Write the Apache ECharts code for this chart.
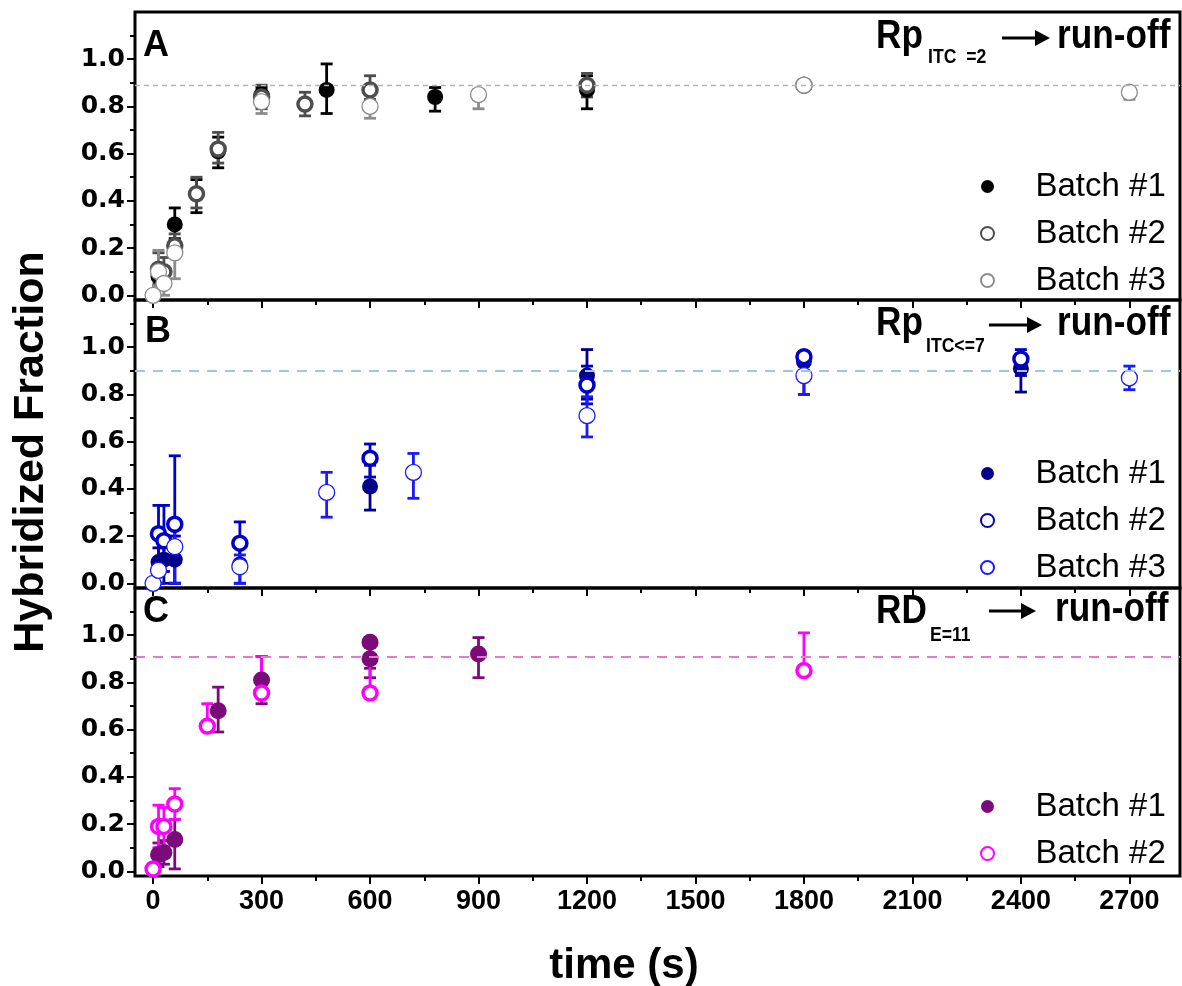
<!DOCTYPE html>
<html><head><meta charset="utf-8">
<script src="https://cdn.jsdelivr.net/npm/echarts@6/dist/echarts.min.js"></script>
<style>html,body{margin:0;padding:0;background:#fff}#c{width:1182px;height:986px}</style>
</head><body><div id="c"></div>
<script>
// each point: [time (s), hybridized fraction, error-bar low, error-bar high]
const A_batch1 = [[15,0.08,0.04,0.12],[60,0.30,0.24,0.37],[120,0.43,0.35,0.49],[180,0.61,0.54,0.67],[300,0.85,0.80,0.88],[480,0.87,0.77,0.98],[780,0.84,0.78,0.88],[1200,0.87,0.79,0.93]];
const A_batch2 = [[15,0.11,0.05,0.18],[30,0.10,0.06,0.16],[60,0.21,0.16,0.26],[120,0.43,0.37,0.50],[180,0.62,0.56,0.69],[300,0.84,0.79,0.89],[420,0.81,0.76,0.86],[600,0.87,0.83,0.93],[1200,0.89,0.84,0.94],[1800,0.89,0.87,0.91]];
const A_batch3 = [[0,0.0,0.0,0.0],[15,0.10,0.04,0.19],[30,0.05,0.0,0.10],[60,0.18,0.07,0.23],[300,0.82,0.77,0.86],[600,0.80,0.75,0.85],[900,0.85,0.79,0.87],[1800,0.89,0.87,0.91],[2700,0.86,0.83,0.88]];

const B_batch1 = [[15,0.09,0.0,0.15],[30,0.10,0.0,0.20],[60,0.10,0.0,0.20],[240,0.08,0.0,0.18],[600,0.41,0.31,0.50],[1200,0.88,0.78,0.99],[1800,0.94,0.80,0.98],[2400,0.91,0.81,0.97]];
const B_batch2 = [[15,0.21,0.10,0.33],[30,0.18,0.05,0.33],[60,0.25,0.0,0.54],[240,0.17,0.06,0.26],[600,0.53,0.45,0.59],[1200,0.84,0.76,0.92],[1800,0.96,0.92,0.97],[2400,0.95,0.88,0.99]];
const B_batch3 = [[0,0.0,0.0,0.0],[15,0.055,0.0,0.10],[60,0.155,0.0,0.25],[240,0.07,0.0,0.12],[480,0.385,0.28,0.47],[720,0.47,0.36,0.55],[1200,0.71,0.62,0.79],[1800,0.88,0.80,0.94],[2700,0.87,0.82,0.92]];

const C_batch1 = [[15,0.07,0.02,0.12],[30,0.08,0.03,0.13],[60,0.135,0.01,0.22],[180,0.68,0.59,0.78],[300,0.81,0.71,0.91],[600,0.97,0.86,0.99],[600,0.90,0.82,0.95],[900,0.92,0.82,0.99]];
const C_batch2 = [[0,0.01,0.01,0.01],[15,0.19,0.10,0.28],[30,0.19,0.10,0.27],[60,0.285,0.22,0.35],[150,0.615,0.61,0.71],[300,0.755,0.75,0.91],[600,0.755,0.75,0.90],[1800,0.85,0.85,1.01]];

const refLevels = [0.89, 0.90, 0.905];
const batchNames = ['Batch #1', 'Batch #2', 'Batch #3'];
const panelLetters = ['A', 'B', 'C'];
const xMajorTicks = [0,300,600,900,1200,1500,1800,2100,2400,2700];
const xMinorTicks = [150,450,750,1050,1350,1650,1950,2250,2550];
const yMajorTicks = [0,0.2,0.4,0.6,0.8,1.0];
const yMinorTicks = [0.1,0.3,0.5,0.7,0.9,1.1];
const xRange = [-50, 2840];
const yRange = [-0.02, 1.2];

const chart = echarts.init(document.getElementById('c'), null, {renderer: 'canvas'});
const tops = [12, 300, 588];
const H = 288;
const SANS = 'Liberation Sans, Arial, sans-serif';

const grids = [], xAxes = [], yAxes = [], series = [], legends = [];
for (let i = 0; i < 3; i++) {
  grids.push({left: 135, right: 2, top: tops[i], height: H, show: true, borderColor: '#000', borderWidth: 3, backgroundColor: 'transparent'});
  const common = {gridIndex: i, type: 'value', splitLine: {show: false}};
  xAxes.push(Object.assign({}, common, {min: xRange[0], max: xRange[1], position: 'bottom',
    axisLine: {show: false, onZero: false},
    axisTick: {show: true, length: 8, lineStyle: {color: '#000', width: 2}, customValues: xMajorTicks},
    axisLabel: {show: i === 2, customValues: xMajorTicks, formatter: v => String(v), color: '#000', fontFamily: SANS, fontWeight: 'bold', fontSize: 27, margin: 12}}));
  xAxes.push(Object.assign({}, common, {min: xRange[0], max: xRange[1], position: 'bottom',
    axisLine: {show: false, onZero: false},
    axisTick: {show: true, length: 5, lineStyle: {color: '#000', width: 2}, customValues: xMinorTicks},
    axisLabel: {show: false}}));
  yAxes.push(Object.assign({}, common, {min: yRange[0], max: yRange[1], position: 'left',
    axisLine: {show: false, onZero: false},
    axisTick: {show: true, length: 8, lineStyle: {color: '#000', width: 2}, customValues: yMajorTicks},
    axisLabel: {customValues: yMajorTicks, formatter: v => v.toFixed(1), color: '#000', fontFamily: 'DejaVu Sans', fontWeight: 'bold', fontSize: 25, margin: 10}}));
  yAxes.push(Object.assign({}, common, {min: yRange[0], max: yRange[1], position: 'left',
    axisLine: {show: false, onZero: false},
    axisTick: {show: true, length: 5, lineStyle: {color: '#000', width: 2}, customValues: yMinorTicks},
    axisLabel: {show: false}}));
}

function errSeries(data, color, gi, w) {
  return {
    type: 'custom', xAxisIndex: gi * 2, yAxisIndex: gi * 2, silent: true, z: 2,
    data: data.map(d => [d[0], d[2], d[3]]),
    encode: {x: 0, y: [1, 2]},
    renderItem: (params, api) => {
      const t = api.value(0);
      const lo = api.coord([t, api.value(1)]);
      const hi = api.coord([t, api.value(2)]);
      const hw = 6;
      const st = {stroke: color, lineWidth: w};
      return {type: 'group', children: [
        {type: 'line', shape: {x1: lo[0], y1: lo[1], x2: hi[0], y2: hi[1]}, style: st},
        {type: 'line', shape: {x1: lo[0] - hw, y1: lo[1], x2: lo[0] + hw, y2: lo[1]}, style: st},
        {type: 'line', shape: {x1: hi[0] - hw, y1: hi[1], x2: hi[0] + hw, y2: hi[1]}, style: st}
      ]};
    }
  };
}
function scatter(name, data, gi, kind, color, size) {
  let itemStyle;
  if (kind === 'filled') itemStyle = {color: color, borderColor: color, borderWidth: 0, opacity: 1};
  else if (kind === 'ring') itemStyle = {color: '#fff', borderColor: color, borderWidth: 3.5, opacity: 1};
  else itemStyle = {color: '#fff', borderColor: color, borderWidth: 1.3, opacity: 1};
  return {type: 'scatter', name: name, xAxisIndex: gi * 2, yAxisIndex: gi * 2, z: 3,
    symbol: 'circle', symbolSize: size, itemStyle: itemStyle,
    data: data.map(d => [d[0], d[1]])};
}

const panels = [
  {sets: [A_batch1, A_batch2, A_batch3], kinds: ['filled', 'ring', 'open'], colors: ['#000000', '#4d4d4d', '#8c8c8c'], sizes: [16, 14, 16], ref: '#b4b4b4', refW: 1.3, refDash: [5, 4]},
  {sets: [B_batch1, B_batch2, B_batch3], kinds: ['filled', 'ring', 'open'], colors: ['#00008a', '#0000cc', '#1a1aff'], sizes: [16, 14, 16], ref: '#9ec4ec', refW: 2, refDash: [10, 8]},
  {sets: [C_batch1, C_batch2], kinds: ['filled', 'ring'], colors: ['#7b0a7b', '#ff00ff'], sizes: [17, 14], ref: '#e27ccc', refW: 2, refDash: [10, 8]}
];

panels.forEach((p, gi) => {
  series.push({type: 'line', xAxisIndex: gi * 2, yAxisIndex: gi * 2, data: [], silent: true,
    markLine: {symbol: 'none', silent: true, label: {show: false},
      lineStyle: {color: p.ref, width: p.refW, type: p.refDash},
      data: [{yAxis: refLevels[gi]}]}});
  const names = [];
  p.sets.forEach((s, k) => {
    series.push(errSeries(s, p.colors[k], gi, 2.8));
  });
  p.sets.forEach((s, k) => {
    const nm = panelLetters[gi] + '|' + batchNames[k];
    names.push(nm);
    series.push(scatter(nm, s, gi, p.kinds[k], p.colors[k], p.sizes[k]));
  });
  const legTop = [165, 452, 785][gi];
  legends.push({data: names, orient: 'vertical', left: 975, top: legTop, itemWidth: 86, itemHeight: 13, itemGap: 14,
    selectedMode: false, formatter: n => n.split('|')[1],
    textStyle: {fontFamily: SANS, fontSize: 33, color: '#000', lineHeight: 28}});
});

function arrow(x1, x2, y) {
  return {type: 'group', children: [
    {type: 'line', shape: {x1: x1, y1: y, x2: x2 - 12, y2: y}, style: {stroke: '#000', lineWidth: 3}},
    {type: 'polygon', shape: {points: [[x2 - 15, y - 8], [x2, y], [x2 - 15, y + 8]]}, style: {fill: '#000'}}
  ]};
}
function bigText(txt, x, y) {
  return {type: 'text', x: x, y: y, scaleX: 0.88, style: {text: txt, fontSize: 40, verticalAlign: 'middle', fontFamily: SANS, fontWeight: 'bold', fill: '#000'}};
}
function subText(txt, x, y) {
  return {type: 'text', x: x, y: y, scaleX: 0.88, style: {text: txt, fontSize: 20, verticalAlign: 'middle', fontFamily: SANS, fontWeight: 'bold', fill: '#000'}};
}
const graphic = [
  {type: 'text', x: 31, y: 452, rotation: Math.PI / 2, style: {text: 'Hybridized Fraction', fontSize: 43, align: 'center', verticalAlign: 'middle', fontFamily: SANS, fontWeight: 'bold', fill: '#000'}},
  {type: 'text', x: 624, y: 966, style: {text: 'time (s)', fontSize: 42, align: 'center', verticalAlign: 'middle', fontFamily: SANS, fontWeight: 'bold', fill: '#000'}},
  {type: 'text', x: 143, y: 46, style: {text: 'A', fontSize: 36, verticalAlign: 'middle', fontFamily: SANS, fontWeight: 'bold', fill: '#000'}},
  {type: 'text', x: 145, y: 332, style: {text: 'B', fontSize: 36, verticalAlign: 'middle', fontFamily: SANS, fontWeight: 'bold', fill: '#000'}},
  {type: 'text', x: 143, y: 612, style: {text: 'C', fontSize: 36, verticalAlign: 'middle', fontFamily: SANS, fontWeight: 'bold', fill: '#000'}},
  bigText('Rp', 876, 37), subText('ITC  =2', 928, 57), arrow(1002, 1050, 38), bigText('run-off', 1057, 37),
  bigText('Rp', 876, 324), subText('ITC<=7', 926, 346), arrow(989, 1042, 325), bigText('run-off', 1057, 324),
  bigText('RD', 876, 612), subText('E=11', 930, 635), arrow(989, 1036, 611), bigText('run-off', 1055, 610)
];

chart.setOption({
  animation: false,
  backgroundColor: '#fff',
  grid: grids, xAxis: xAxes, yAxis: yAxes, series: series, legend: legends, graphic: graphic
});
</script></body></html>
